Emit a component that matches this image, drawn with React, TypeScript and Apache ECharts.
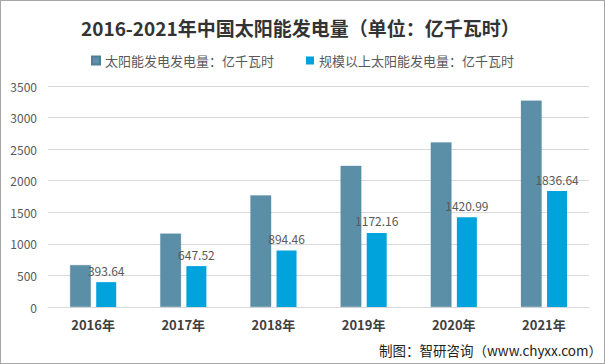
import React, { useEffect, useRef } from "react";
import * as echarts from "echarts";

const categories = ["2016年", "2017年", "2018年", "2019年", "2020年", "2021年"];
const solarTotal = [665, 1166, 1769, 2238, 2611, 3270];
const solarAboveScale = [393.64, 647.52, 894.46, 1172.16, 1420.99, 1836.64];
const seriesNames = ["太阳能发电发电量：亿千瓦时", "规模以上太阳能发电量：亿千瓦时"];
const titleText = "2016-2021年中国太阳能发电量（单位：亿千瓦时）";
const sourceText = "制图：智研咨询（www.chyxx.com）";

const FONT = "'Noto Sans CJK SC', 'Microsoft YaHei', sans-serif";

export default function App() {
  const ref = useRef<HTMLDivElement>(null);
  useEffect(() => {
    if (!ref.current) return;
    const chart = echarts.init(ref.current, undefined, { renderer: "svg" });
    chart.setOption({
      animation: false,
      backgroundColor: "#ffffff",
      title: {
        text: titleText,
        left: 75,
        top: 12,
        textStyle: { fontFamily: FONT, fontSize: 19, fontWeight: "bold", color: "#333333" },
      },
      legend: {
        top: 48,
        left: "center",
        itemWidth: 8,
        itemHeight: 8,
        itemGap: 32,
        icon: "rect",
        textStyle: { fontFamily: FONT, fontSize: 13, color: "#595959" },
        data: seriesNames,
      },
      grid: { left: 47, right: 15, top: 85, bottom: 56, containLabel: false },
      xAxis: {
        type: "category",
        data: categories,
        axisLine: { lineStyle: { color: "#d9d9d9" } },
        axisTick: { show: false },
        axisLabel: {
          margin: 11,
          fontFamily: FONT,
          fontSize: 13,
          fontWeight: "bold",
          color: "#404040",
        },
      },
      yAxis: {
        type: "value",
        min: 0,
        max: 3500,
        interval: 500,
        axisLine: { show: false },
        axisTick: { show: false },
        splitLine: { lineStyle: { color: "#d9d9d9" } },
        axisLabel: {
          margin: 11,
          fontFamily: FONT,
          fontSize: 12,
          color: "#595959",
          formatter: (v: number) => String(v),
        },
      },
      series: [
        {
          name: seriesNames[0],
          type: "bar",
          data: solarTotal,
          barWidth: 21,
          barGap: "25%",
          itemStyle: { color: "#5b8fa8", borderColor: "#4f7f96", borderWidth: 0.5, borderType: "dotted" },
        },
        {
          name: seriesNames[1],
          type: "bar",
          data: solarAboveScale,
          barWidth: 20,
          itemStyle: { color: "#00a3dc" },
          label: {
            show: true,
            position: "top",
            distance: 6,
            fontFamily: FONT,
            fontSize: 12,
            color: "#595959",
            formatter: (p: any) => p.value.toFixed(2),
          },
        },
      ],
      graphic: [
        {
          type: "text",
          right: 2,
          top: 342,
          style: { text: sourceText, fontFamily: FONT, fontSize: 13.5, fill: "#222222" },
        },
      ],
    });
    return () => chart.dispose();
  }, []);
  return (
    <div
      style={{
        position: "fixed",
        left: 0,
        top: 0,
        width: 605,
        height: 364,
        boxSizing: "border-box",
        border: "1px solid #a6a6a6",
        background: "#fff",
      }}
    >
      <div ref={ref} style={{ width: 603, height: 362 }} />
    </div>
  );
}
